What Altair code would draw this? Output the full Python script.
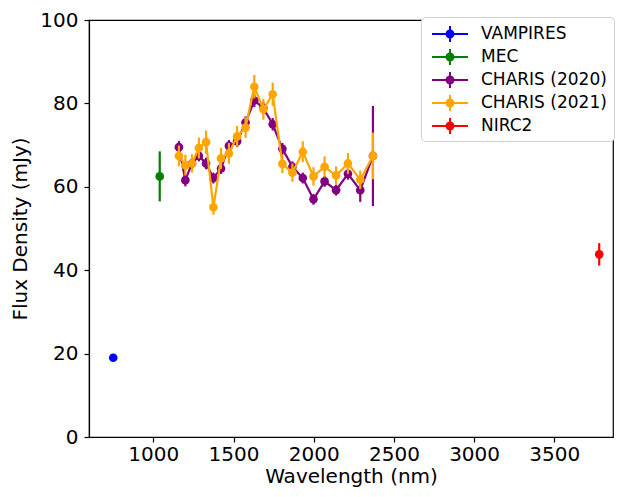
import altair as alt
import pandas as pd

series_names = ["VAMPIRES", "MEC", "CHARIS (2020)", "CHARIS (2021)", "NIRC2"]
series_colors = ["#0000ff", "#008000", "#800080", "#ffa500", "#ff0000"]

vampires_wl = [750.0]
vampires_flux = [19.0]
vampires_err = [0.4]

mec_wl = [1040.0]
mec_flux = [62.5]
mec_err = [6.0]

charis_wl = [1159.6, 1199.7, 1241.2, 1284.2, 1328.6, 1374.6, 1422.2, 1471.4,
             1522.4, 1575.0, 1629.6, 1686.0, 1744.3, 1804.7, 1867.2, 1931.8,
             1998.7, 2067.8, 2139.4, 2213.5, 2290.1, 2369.3]
charis2020_flux = [69.5, 61.6, 65.6, 67.4, 65.6, 62.1, 64.4, 69.8, 70.9, 75.4, 80.7,
                   78.9, 75.0, 69.1, 64.8, 62.1, 57.0, 61.3, 59.2, 63.1, 59.2, 67.4]
charis2020_err = [1.5, 1.5, 1.2, 1.3, 1.4, 1.3, 1.3, 1.4, 1.4, 1.5, 1.6,
                  1.5, 1.5, 1.4, 1.3, 1.3, 1.3, 1.3, 1.3, 1.4, 2.8, 12.0]
charis2021_flux = [67.4, 65.2, 65.6, 69.3, 70.7, 55.1, 66.8, 68.0, 72.1, 74.2, 84.0,
                   78.6, 82.2, 65.5, 63.4, 68.4, 62.5, 64.8, 62.7, 65.6, 61.7, 67.4]
charis2021_err = [2.5, 2.5, 2.2, 2.5, 2.8, 1.8, 2.5, 2.5, 2.5, 2.5, 2.8,
                  2.5, 2.8, 2.2, 2.2, 2.5, 2.2, 2.5, 2.2, 2.5, 2.2, 5.6]

nirc2_wl = [3780.0]
nirc2_flux = [43.8]
nirc2_err = [2.7]

x_ticks = [1000, 1500, 2000, 2500, 3000, 3500]
y_ticks = [0, 20, 40, 60, 80, 100]

rows = []
def add(name, wl, fl, er):
    for w, f, e in zip(wl, fl, er):
        rows.append({"series": name, "wl": w, "flux": f, "lo": f - e, "hi": f + e})

add("VAMPIRES", vampires_wl, vampires_flux, vampires_err)
add("MEC", mec_wl, mec_flux, mec_err)
add("CHARIS (2020)", charis_wl, charis2020_flux, charis2020_err)
add("CHARIS (2021)", charis_wl, charis2021_flux, charis2021_err)
add("NIRC2", nirc2_wl, nirc2_flux, nirc2_err)
df = pd.DataFrame(rows)

xscale = alt.Scale(domain=[599, 3866], nice=False, zero=False)
yscale = alt.Scale(domain=[0, 100], nice=False)
cscale = alt.Scale(domain=series_names, range=series_colors)

x_enc = alt.X("wl:Q", scale=xscale,
              axis=alt.Axis(title="Wavelength (nm)", values=x_ticks, format="d",
                            labelPadding=2, titlePadding=2))
y_enc = alt.Y("flux:Q", scale=yscale,
              axis=alt.Axis(title="Flux Density (mJy)", values=y_ticks,
                            labelPadding=6, titlePadding=9))

legend_path = ("M-1.8,-0.1L1.8,-0.1L1.8,0.1L-1.8,0.1Z "
               "M-0.1,-0.8L0.1,-0.8L0.1,0.8L-0.1,0.8Z "
               "M0.45,0A0.45,0.45 0 1,1 -0.45,0A0.45,0.45 0 1,1 0.45,0Z")

legend = alt.Legend(title=None, orient="none", legendX=332, legendY=-3,
                    symbolType=legend_path, symbolSize=400, symbolStrokeWidth=0,
                    symbolOpacity=1, symbolOffset=12, labelOffset=21,
                    labelFontSize=17, labelFont="DejaVu Sans", labelColor="#000000",
                    padding=7, rowPadding=5, fillColor="white",
                    strokeColor="#d0d0d0", cornerRadius=4)

color_enc = alt.Color("series:N", scale=cscale, legend=legend)

base = alt.Chart(df)
layers = []
for name in series_names:
    sub = base.transform_filter(alt.datum.series == name)
    if name.startswith("CHARIS"):
        layers.append(sub.mark_line(strokeWidth=2.2, opacity=1).encode(
            x=x_enc, y=y_enc, order="wl:Q", color=color_enc))
    layers.append(sub.mark_rule(strokeWidth=2.2, opacity=1).encode(
        x=x_enc, y=alt.Y("lo:Q", scale=yscale), y2="hi:Q", color=color_enc))
    layers.append(sub.mark_point(filled=True, size=75, opacity=1).encode(
        x=x_enc, y=y_enc, color=color_enc))

chart = alt.layer(*layers).properties(
    width=524, height=417,
    autosize=alt.AutoSizeParams(type="none"),
    padding={"left": 81, "top": 12, "right": 2, "bottom": 52},
).configure_view(stroke="#000000", strokeWidth=1.2).configure_axis(
    labelFont="DejaVu Sans", titleFont="DejaVu Sans",
    labelFontSize=20, titleFontSize=20, titleFontWeight="normal",
    labelColor="#000000", titleColor="#000000",
    domainColor="#000000", tickColor="#000000",
    domainWidth=1.2, tickWidth=1.2, tickSize=5, grid=False,
)

chart.save("out.html", embed_options={"renderer": "svg", "actions": False})
